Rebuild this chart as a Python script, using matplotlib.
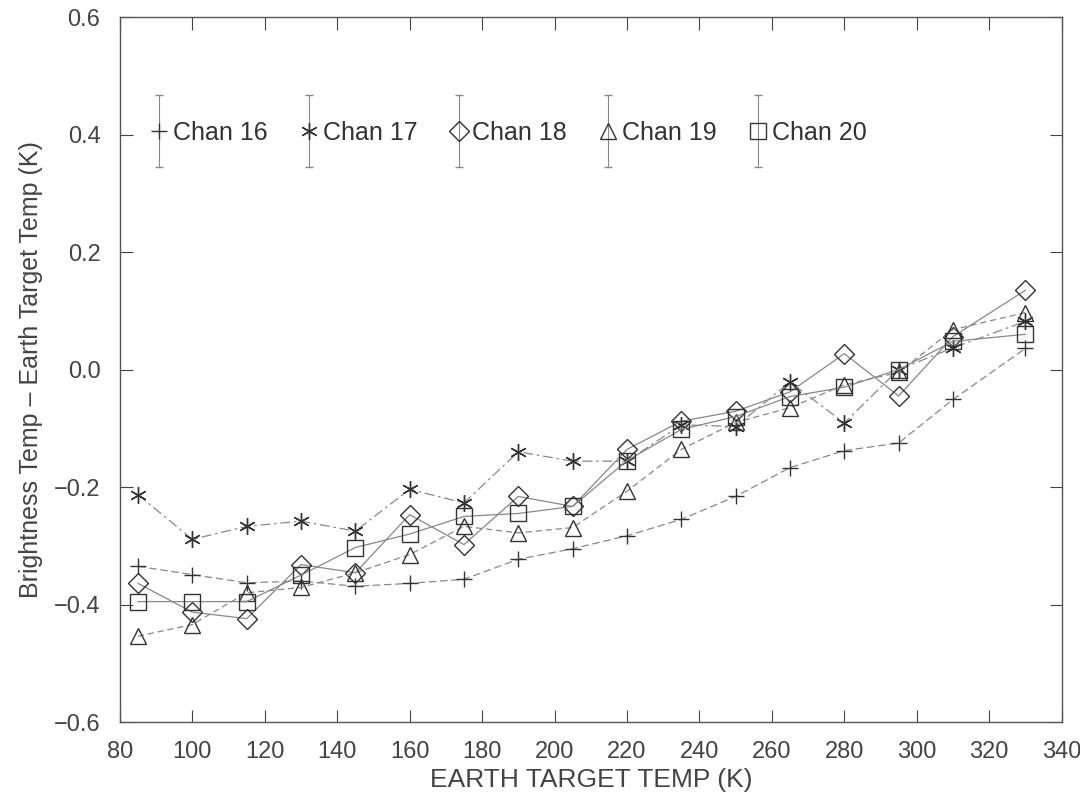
import numpy as np
import matplotlib
matplotlib.use("Agg")
import matplotlib.pyplot as plt
from matplotlib.container import ErrorbarContainer
from matplotlib.legend_handler import HandlerErrorbar
from matplotlib.ticker import FuncFormatter

plt.rcParams['font.family'] = ['Liberation Sans', 'DejaVu Sans']

temps = [85, 100, 115, 130, 145, 160, 175, 190, 205, 220, 235, 250, 265, 280, 295, 310, 330]

chan16 = [-0.335, -0.349, -0.363, -0.36, -0.369, -0.364, -0.357, -0.323, -0.305, -0.283,
          -0.255, -0.216, -0.167, -0.138, -0.125, -0.051, 0.036]
chan17 = [-0.213, -0.289, -0.267, -0.258, -0.275, -0.204, -0.227, -0.14, -0.156, -0.156,
          -0.094, -0.097, -0.021, -0.091, 0.0, 0.037, 0.082]
chan18 = [-0.364, -0.413, -0.424, -0.332, -0.346, -0.247, -0.298, -0.216, -0.233, -0.136,
          -0.088, -0.071, -0.038, 0.027, -0.045, 0.056, 0.135]
chan19 = [-0.454, -0.434, -0.38, -0.371, -0.346, -0.315, -0.267, -0.278, -0.269, -0.207,
          -0.136, -0.09, -0.065, -0.026, -0.005, 0.068, 0.097]
chan20 = [-0.395, -0.395, -0.395, -0.35, -0.303, -0.28, -0.25, -0.245, -0.233, -0.155,
          -0.102, -0.08, -0.046, -0.03, 0.0, 0.048, 0.06]

labels = ["Chan 16", "Chan 17", "Chan 18", "Chan 19", "Chan 20"]
markers = ["+", (6, 2, 0), "D", "^", "s"]
sizes = [12, 12, 10, 11, 11]
styles = [(0, (6, 3)), (0, (8, 3, 2, 3)), "-", (0, (5, 3)), "-"]

fig = plt.figure(figsize=(10.8, 7.93), dpi=100)
ax = fig.add_axes([0.111, 0.0895, 0.872, 0.889])

series = [chan16, chan17, chan18, chan19, chan20]
handles = []
for vals, lab, mk, ms, ls in zip(series, labels, markers, sizes, styles):
    ax.plot(temps, vals, linestyle=ls, color="#888888", linewidth=0.9,
            marker=mk, markersize=ms, markerfacecolor="none",
            markeredgecolor="#333333", markeredgewidth=1.0)
    h = ax.errorbar([np.nan], [np.nan], yerr=[0.1], linestyle="none", marker=mk,
                    markersize=ms, markerfacecolor="none", markeredgecolor="#333333",
                    markeredgewidth=1.0, ecolor="#888888", elinewidth=0.8,
                    capsize=3, label=lab)
    handles.append(h)

ax.legend(handles=handles, labels=labels, ncol=5, frameon=False, fontsize=18,
          loc="upper left", bbox_to_anchor=(0.01, 0.885), handlelength=0.6,
          handletextpad=0.25, columnspacing=1.35,
          handler_map={ErrorbarContainer: HandlerErrorbar(xerr_size=0.5, yerr_size=1.45)},
          labelcolor="#333333")

ax.set_xlim(80, 340)
ax.set_ylim(-0.6, 0.6)
ax.set_xticks(np.arange(80, 341, 20))
ax.set_yticks(np.arange(-0.6, 0.61, 0.2))
ax.yaxis.set_major_formatter(FuncFormatter(lambda v, p: f"{v:.1f}".replace("-", "\u2212")))
ax.tick_params(direction="in", length=9, width=0.8, top=True, right=True,
               labelsize=17, colors="#444444", pad=14)
for s in ax.spines.values():
    s.set_color("#555555")
    s.set_linewidth(1.0)

ax.set_xlabel("EARTH TARGET TEMP (K)", fontsize=19, color="#444444", labelpad=3)
ax.set_ylabel("Brightness Temp \u2013 Earth Target Temp (K)", fontsize=18,
              color="#444444", labelpad=8)

fig.savefig("out.png", dpi=100)
